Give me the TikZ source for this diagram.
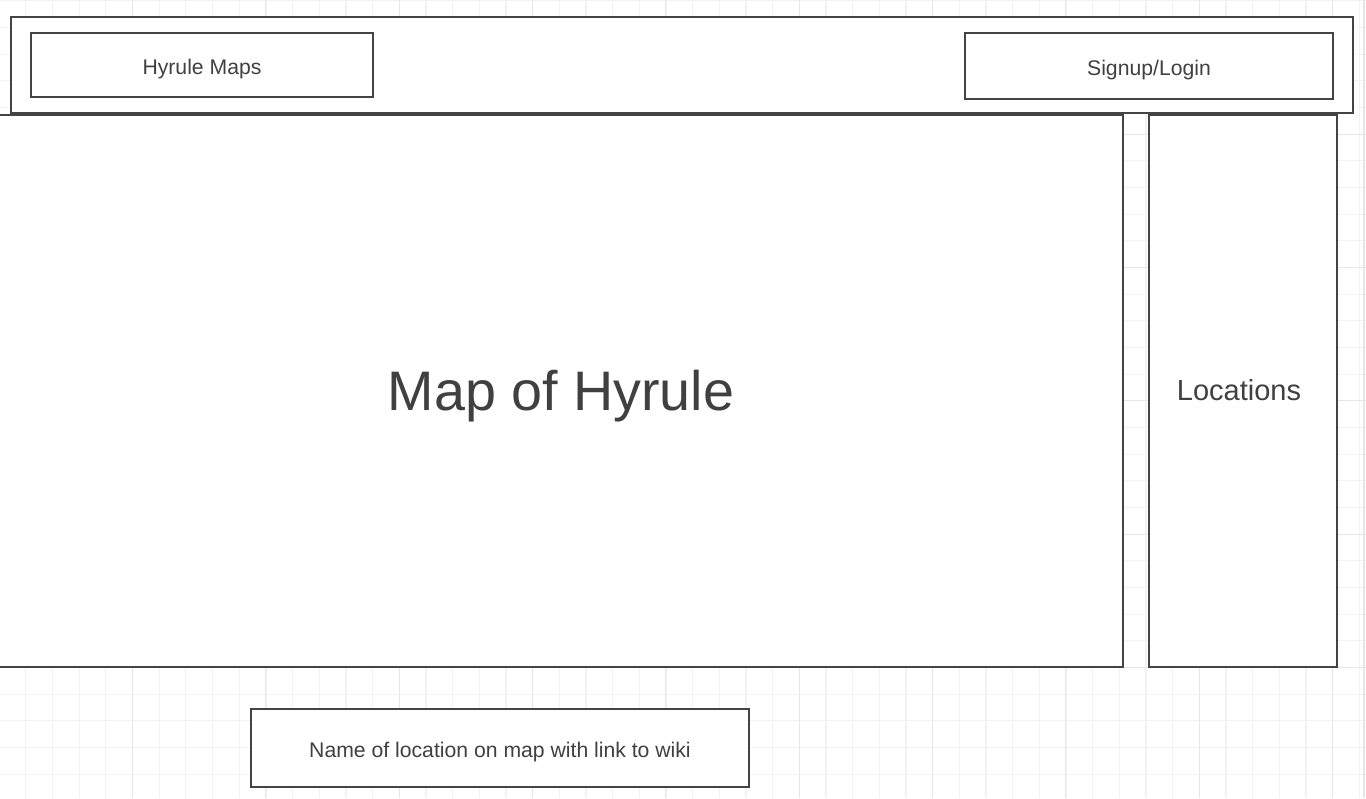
\documentclass[tikz,border=0pt]{standalone}
\usepackage{fontspec}
\setmainfont{Liberation Sans}
\definecolor{ink}{HTML}{444444}
\definecolor{textgray}{HTML}{404040}
\definecolor{minorgrid}{HTML}{F2F2F2}
\definecolor{majorgrid}{HTML}{E6E6E6}
\begin{document}
\begin{tikzpicture}[x=0.02cm, y=-0.02cm,
		panel/.style={draw=ink, line width=1.15pt, fill=white, rectangle, inner sep=0pt, outer sep=0pt, text=textgray, text depth=0pt},
		smalltext/.style={font=\fontsize{12.06pt}{14pt}\selectfont, text height=10.8pt},
		minorline/.style={minorgrid, line width=0.6pt},
		majorline/.style={majorgrid, line width=0.6pt}]
		% Fondo
			\clip (0,0) rectangle (1366,798);
			\fill[white] (0,0) rectangle (1366,798);
	
		% Cuadricula
			\foreach \k in {1,...,51}
				\draw[minorline] ({26.667*\k-0.7},0) -- ({26.667*\k-0.7},798);
			\foreach \k in {0,...,30}
				\draw[minorline] (0,{26.667*\k+0.7}) -- (1366,{26.667*\k+0.7});
			\foreach \k in {1,...,10}
				\draw[majorline] ({133.33*\k-0.7},0) -- ({133.33*\k-0.7},798);
			\foreach \k in {1,...,5}
				\draw[majorline] (0,{133.33*\k+0.7}) -- (1366,{133.33*\k+0.7});
			\draw[majorline] (1364,0) -- (1364,798);
	
		% Cabecera
			\node[panel, minimum width=1342*0.02cm, minimum height=96*0.02cm] (header) at (682,65) {};
			\node[panel, smalltext, minimum width=342*0.02cm, minimum height=64*0.02cm] (title) at (202,65) {Hyrule Maps};
			\node[panel, smalltext, minimum width=368*0.02cm, minimum height=66*0.02cm] (login) at (1149,66) {Signup/Login};
	
		% Mapa y lista
			\node[panel, minimum width=1124*0.02cm, minimum height=552*0.02cm, font=\fontsize{31.7pt}{36pt}\selectfont, text height=22.2pt] (map) at (561,391) {Map of Hyrule};
			\node[panel, minimum width=188*0.02cm, minimum height=552*0.02cm, font=\fontsize{16.5pt}{19pt}\selectfont, text height=10.8pt] (locations) at (1243,391) {\hspace*{-4.6pt}Locations};
	
		% Pie
			\node[panel, smalltext, minimum width=498*0.02cm, minimum height=78*0.02cm] (wiki) at (500,748) {Name of location on map with link to wiki};
	\end{tikzpicture}
\end{document}
